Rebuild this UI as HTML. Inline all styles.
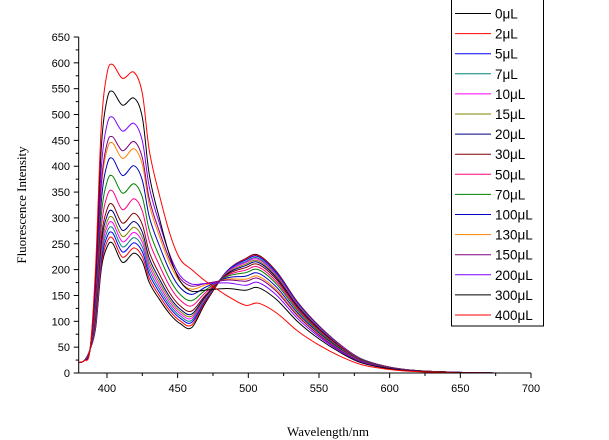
<!DOCTYPE html>
<html><head><meta charset="utf-8"><style>
html,body{margin:0;padding:0;background:#fff;}
svg{display:block;}
</style></head><body>
<svg id="chart" width="609" height="440" xmlns="http://www.w3.org/2000/svg"></svg>
<script>
const seriesNames=["0μL","2μL","5μL","7μL","10μL","15μL","20μL","30μL","50μL","70μL","100μL","130μL","150μL","200μL","300μL","400μL"];
const seriesColors=["#000000","#ff0000","#0000ff","#008080","#ff00ff","#808000","#000080","#800000","#ff0080","#008000","#0000c0","#ff8000","#800080","#8000ff","#000000","#ff0000"];
const peak1=[251,261,271,281,291,301,313,326,352,381,415,445,457,495,545,597];
const dip=[214,224,234,244,254,264,276,290,316,348,382,415,430,468,518,570];
const peak2=[232,242,252,262,272,282,293,309,337,366,401,434,448,483,532,582];
const valley=[88,93,98,102,106,110,114,120,130,140,152,162,168,172,158,200];
const greenPeak=[228,227,225,222,220,217,214,210,205,200,193,187,183,175,165,135];
const xTicks=[400,450,500,550,600,650,700];
const yTicks=[0,50,100,150,200,250,300,350,400,450,500,550,600,650];

const NS="http://www.w3.org/2000/svg";
const svg=document.getElementById('chart');
const X0=380,X1=700,PX0=78.7,PX1=531;
const PY0=373,PY1=37;
const xs=v=>PX0+(v-X0)*(PX1-PX0)/(X1-X0);
const ys=v=>PY0-(v)*(PY0-PY1)/650;
function el(t,a){const e=document.createElementNS(NS,t);for(const k in a)e.setAttribute(k,a[k]);svg.appendChild(e);return e;}

const defs=el('defs',{});
const cp=document.createElementNS(NS,'clipPath');cp.setAttribute('id','pc');
const r=document.createElementNS(NS,'rect');r.setAttribute('x',PX0);r.setAttribute('y',0);r.setAttribute('width',PX1-PX0+2);r.setAttribute('height',PY0+1);
cp.appendChild(r);defs.appendChild(cp);

function nodes(i){
  const a=peak1[i],c=dip[i],b=peak2[i],v=valley[i],g=greenPeak[i];
  return [[378,19],[380,20],[384,24],[388,45],[392,0.35*a],[396,0.8*a],[400,0.97*a],[404,a],[411,c],[419,b],[425,0.93*b],
  [430,v+(b-v)*0.6],[437,v+(b-v)*0.38],[445,v+(b-v)*0.17],[452,v+(b-v)*0.05],[460,v],[470,v+(g-v)*0.35],[485,v+(g-v)*0.78],[498,0.97*g],[507,g],[520,0.86*g],
  [535,0.6*g],[550,0.4*g],[565,0.24*g],[580,0.12*g],[600,0.05*g],[620,0.02*g],[650,0.005*g],[675,0]];
}
function pathFrom(pts){
  const P=pts.map(p=>[xs(p[0]),ys(p[1])]);
  let d='M'+P[0][0].toFixed(1)+','+P[0][1].toFixed(1);
  for(let k=0;k<P.length-1;k++){
    const p0=P[Math.max(0,k-1)],p1=P[k],p2=P[k+1],p3=P[Math.min(P.length-1,k+2)];
    const c1=[p1[0]+(p2[0]-p0[0])/6,p1[1]+(p2[1]-p0[1])/6];
    const c2=[p2[0]-(p3[0]-p1[0])/6,p2[1]-(p3[1]-p1[1])/6];
    d+=' C'+c1[0].toFixed(1)+','+c1[1].toFixed(1)+' '+c2[0].toFixed(1)+','+c2[1].toFixed(1)+' '+p2[0].toFixed(1)+','+p2[1].toFixed(1);
  }
  return d;
}
const g=el('g',{'clip-path':'url(#pc)'});
for(let i=0;i<seriesNames.length;i++){
  let pts=nodes(i);
  if(i===seriesNames.length-1) pts=pts.concat([[700,0]]);
  const p=document.createElementNS(NS,'path');
  p.setAttribute('d',pathFrom(pts));
  p.setAttribute('fill','none');p.setAttribute('stroke',seriesColors[i]);p.setAttribute('stroke-width','1');
  
  
  g.appendChild(p);
}

const ax=el('line',{x1:PX0,y1:PY0,x2:PX1,y2:PY0,stroke:'#000','stroke-width':1});

const ay=el('line',{x1:PX0,y1:PY0,x2:PX0,y2:PY1,stroke:'#000','stroke-width':1});

for(let v=400;v<=700;v+=25){const x=xs(v);el('line',{x1:x,y1:PY0,x2:x,y2:PY0+(v%50?3:5),stroke:'#000'});}
xTicks.forEach(v=>{const t=el('text',{x:xs(v),y:392,'font-family':'Liberation Sans, sans-serif','font-size':11,'text-anchor':'middle'});t.textContent=v;
});
for(let v=0;v<=650;v+=25){const y=ys(v);el('line',{x1:PX0,y1:y,x2:PX0-(v%50?3:5),y2:y,stroke:'#000'});}
yTicks.forEach(v=>{const t=el('text',{x:70,y:ys(v)+4,'font-family':'Liberation Sans, sans-serif','font-size':11,'text-anchor':'end'});t.textContent=v;
});
const xt=el('text',{x:328,y:436,'font-family':'Liberation Serif, serif','font-size':13,'text-anchor':'middle'});xt.textContent='Wavelength/nm';

const yt=el('text',{x:0,y:0,transform:'translate(26,205) rotate(-90)','font-family':'Liberation Serif, serif','font-size':13,'text-anchor':'middle'});yt.textContent='Fluorescence Intensity';


const lg=el('rect',{x:451.5,y:-2,width:92,height:328,fill:'#fff',stroke:'#000','stroke-width':1});

seriesNames.forEach((n,i)=>{
  const y=13.5+i*20.1;
  const l=el('line',{x1:455,y1:y,x2:491,y2:y,stroke:seriesColors[i],'stroke-width':1});
  
  const t=el('text',{x:495,y:y+5,'font-family':'Liberation Sans, sans-serif','font-size':13.5});t.textContent=n;
  
});
</script>
</body></html>
